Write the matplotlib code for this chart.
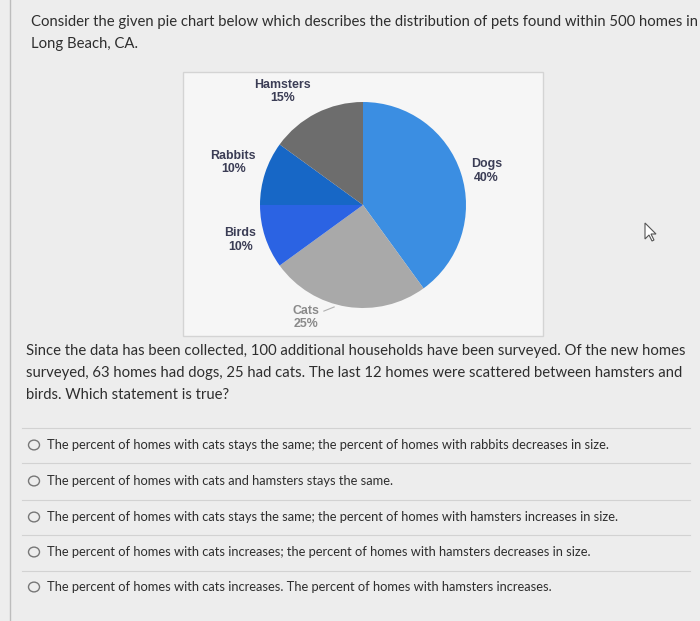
import matplotlib.pyplot as plt
from matplotlib.patches import Rectangle, Circle, Polygon
from matplotlib.lines import Line2D

# Pie data
pets = ['Dogs', 'Cats', 'Birds', 'Rabbits', 'Hamsters']
shares = [40, 25, 10, 10, 15]
colors = ['#3b8ee2', '#a9a9a9', '#2b63e3', '#1767c6', '#6d6d6d']
# label offsets (x, y) in pie units, hand placed like the original sheet chart
label_pos = {'Dogs': (1.20, 0.33), 'Cats': (-0.55, -1.09), 'Birds': (-1.19, -0.34),
             'Rabbits': (-1.26, 0.41), 'Hamsters': (-0.78, 1.10)}

question = ("Consider the given pie chart below which describes the distribution of pets found within 500 homes in\n"
            "Long Beach, CA.")
followup = ("Since the data has been collected, 100 additional households have been surveyed. Of the new homes\n"
            "surveyed, 63 homes had dogs, 25 had cats. The last 12 homes were scattered between hamsters and\n"
            "birds. Which statement is true?")
options = [
    "The percent of homes with cats stays the same; the percent of homes with rabbits decreases in size.",
    "The percent of homes with cats and hamsters stays the same.",
    "The percent of homes with cats stays the same; the percent of homes with hamsters increases in size.",
    "The percent of homes with cats increases; the percent of homes with hamsters decreases in size.",
    "The percent of homes with cats increases. The percent of homes with hamsters increases.",
]

W, H = 700, 621
fig = plt.figure(figsize=(7, 6.21), dpi=100)
fig.patch.set_facecolor('#ededed')

def fx(px):
    return px / W

def fy(py):
    return 1 - py / H

# left page edge
fig.add_artist(Line2D([fx(10), fx(10)], [0, 1], color='#bdbdbd', lw=1))

txt = '#2e2e2e'
fig.text(fx(31), fy(33), question, fontsize=10.7, family='Lato', color=txt,
         va='center', linespacing=1.7)

# chart box
fig.add_artist(Rectangle((fx(183), fy(336)), fx(543 - 183), (336 - 72) / H,
                         facecolor='#f6f6f6', edgecolor='#d4d4d4', lw=1, zorder=-5))

cx, cy, r = 363, 205, 103
ax = fig.add_axes([fx(cx - r), fy(cy + r), 2 * r / W, 2 * r / H])
ax.set_zorder(2)
ax.pie(shares, colors=colors, startangle=90, counterclock=False,
       wedgeprops=dict(linewidth=0))
ax.set_xlim(-1, 1)
ax.set_ylim(-1, 1)
for name, val in zip(pets, shares):
    lx, ly = label_pos[name]
    c = '#8a8a8a' if name == 'Cats' else '#3b3d55'
    ax.text(lx, ly, f'{name}\n{val}%', ha='center', va='center', fontsize=8.9,
            family='Liberation Sans', fontweight='bold', color=c, linespacing=1.15)
ax.plot([-0.38, -0.28], [-1.03, -0.99], color='#b0b0b0', lw=0.8, clip_on=False)

# mouse cursor left in the screenshot
cur = [(645, 223), (645, 239), (649, 235), (652, 241), (654, 240), (651, 234), (656, 234)]
fig.add_artist(Polygon([(fx(a), fy(b)) for a, b in cur], closed=True,
                       facecolor='white', edgecolor='#555555', lw=0.8))

fig.text(fx(26), fy(373), followup, fontsize=10.7, family='Lato', color=txt,
         va='center', linespacing=1.7)

# answer options with separators
sep_y = [428, 463, 500, 535, 571]
opt_y = [445, 481, 517, 552, 587]
for sy in sep_y:
    fig.add_artist(Line2D([fx(22), fx(690)], [fy(sy), fy(sy)], color='#d2d2d2', lw=0.8))
for oy, o in zip(opt_y, options):
    fig.add_artist(Circle((fx(34), fy(oy)), 5.5 / W, transform=fig.transFigure,
                          facecolor='none', edgecolor='#777777', lw=1.0))
    fig.text(fx(47), fy(oy), o, fontsize=9.3, family='Lato', color=txt, va='center')

fig.savefig('out.png', dpi=100, facecolor=fig.get_facecolor())
